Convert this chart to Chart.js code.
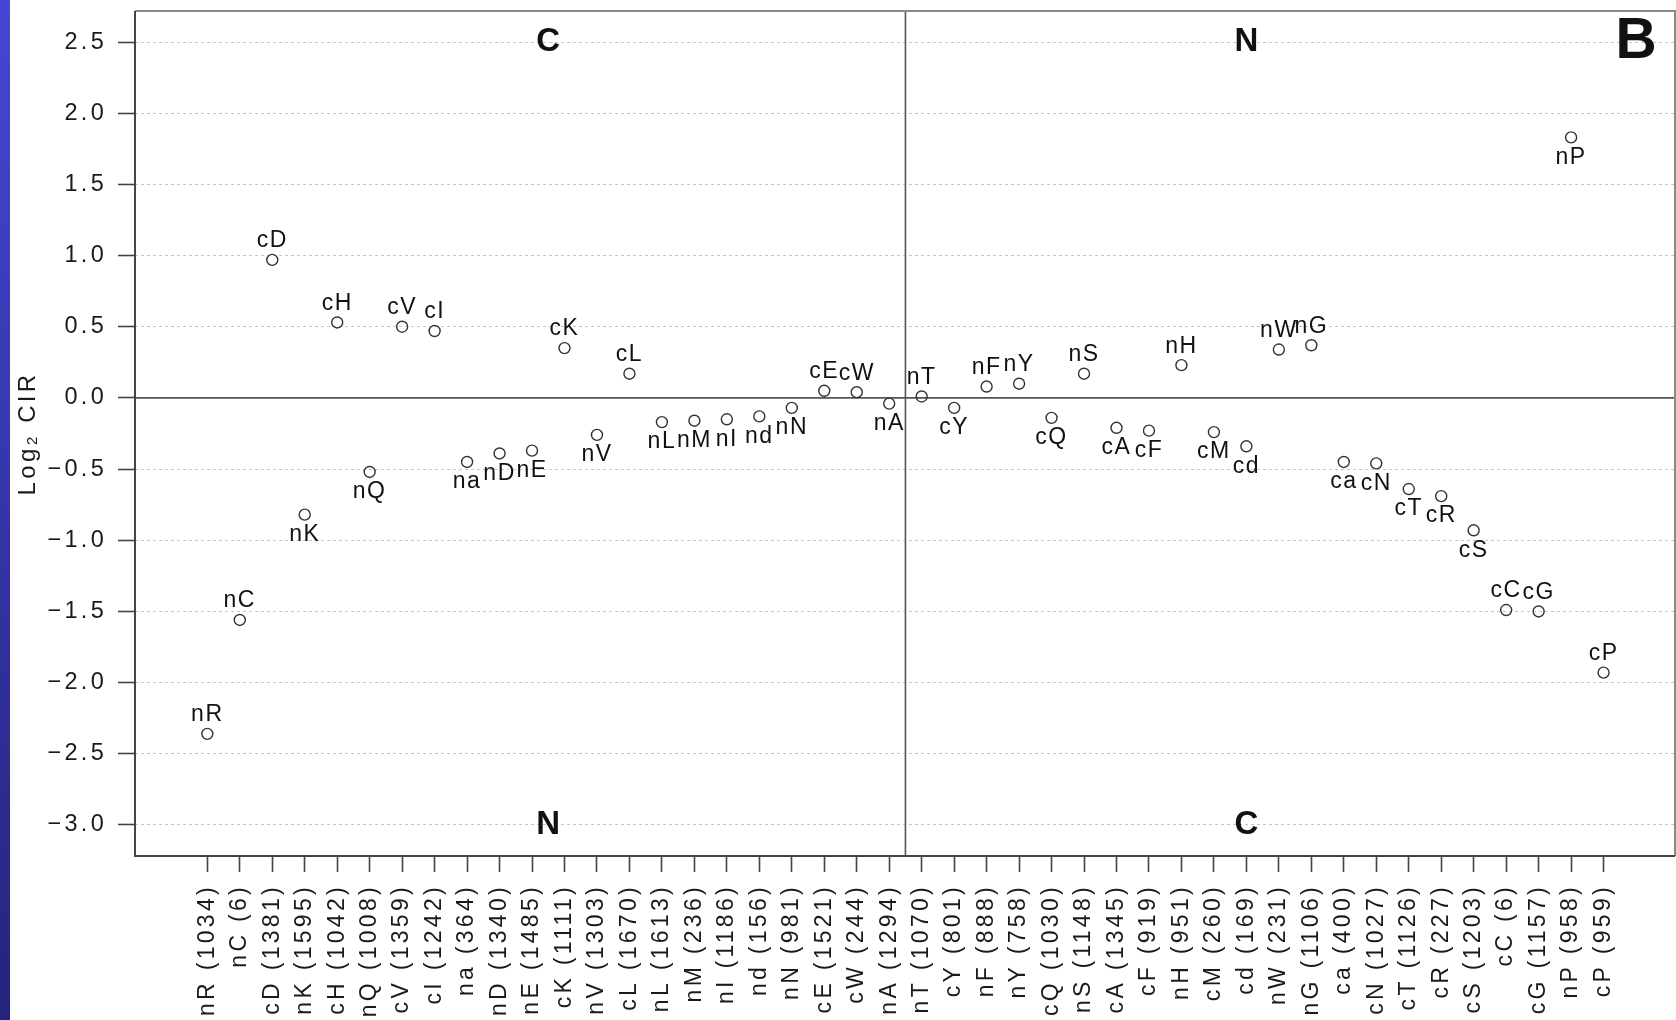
<!DOCTYPE html>
<html>
<head>
<meta charset="utf-8">
<script src="https://cdn.jsdelivr.net/npm/chart.js@4.4.1/dist/chart.umd.min.js"></script>
<style>
  html, body { margin: 0; padding: 0; background: #fff; }
  #wrap { position: relative; width: 1676px; height: 1020px; overflow: hidden; background: #fff; }
  #strip { position: absolute; left: 0; top: 0; width: 10px; height: 1020px;
           background: linear-gradient(#4646d4, #24247c); z-index: 2; }
  canvas { position: absolute; left: 0; top: 0; }
</style>
</head>
<body>
<div id="wrap">
  <div id="strip"></div>
  <canvas id="c" width="1676" height="1020"></canvas>
</div>
<script>
// ---- data ----
const CODES = ['nR','nC','cD','nK','cH','nQ','cV','cI','na','nD','nE','cK','nV','cL','nL','nM','nI','nd','nN','cE','cW','nA',
               'nT','cY','nF','nY','cQ','nS','cA','cF','nH','cM','cd','nW','nG','ca','cN','cT','cR','cS','cC','cG','nP','cP'];
const COUNTS = [1034,6,1381,1595,1042,1008,1359,1242,364,1340,1485,1111,1303,1670,1613,236,1186,156,981,1521,244,1294,
                1070,801,888,758,1030,1148,1345,919,951,260,169,231,1106,400,1027,1126,227,1203,6,1157,958,959];
const LOG2_CIR = [-2.36,-1.56,0.97,-0.82,0.53,-0.52,0.50,0.47,-0.45,-0.39,-0.37,0.35,-0.26,0.17,-0.17,-0.16,-0.15,-0.13,-0.07,0.05,0.04,-0.04,
                  0.01,-0.07,0.08,0.10,-0.14,0.17,-0.21,-0.23,0.23,-0.24,-0.34,0.34,0.37,-0.45,-0.46,-0.64,-0.69,-0.93,-1.49,-1.50,1.83,-1.93];
// label placement relative to its point: 'a' above, 'b' below
const LABEL_SIDE = ['a','a','a','b','a','b','a','a','b','b','b','a','b','a','b','b','b','b','b','a','a','b',
                    'a','b','a','a','b','a','b','b','a','b','b','a','a','b','b','b','b','b','a','a','b','a'];
const Y_TICKS = [-3.0,-2.5,-2.0,-1.5,-1.0,-0.5,0.0,0.5,1.0,1.5,2.0,2.5];
const X_LABELS = CODES.map((c, i) => c + ' (' + COUNTS[i] + ')');
const ZERO_Y = 0;
const DIVIDER_X = 21.5;
const REGION_LETTERS = ['C','N','N','C'];
const REGION_X = [10.5, 32.0, 10.5, 32.0];
const REGION_Y = [2.5, 2.5, -3.0, -3.0];
const PANEL_LETTER = 'B';
const PANEL_X = 44.0;
const PANEL_Y = 2.5;
const Y_TITLE = 'Log\u2082 CIR';

const FONT = '"Liberation Sans", Arial, Helvetica, sans-serif';

const decor = {
  id: 'decor',
  beforeUpdate(chart) { chart.ctx.letterSpacing = '3.3px'; },
  beforeDraw(chart) {
    const ctx = chart.ctx;
    ctx.save();
    ctx.fillStyle = '#fff';
    ctx.fillRect(0, 0, chart.width, chart.height);
    ctx.restore();
    ctx.letterSpacing = '3.3px';
  },
  beforeDatasetsDraw(chart) {
    const { ctx, chartArea: a, scales: { x, y } } = chart;
    ctx.save();
    ctx.letterSpacing = '0px';
    ctx.strokeStyle = '#555';
    ctx.lineWidth = 1.6;
    const y0 = y.getPixelForValue(ZERO_Y);
    ctx.beginPath(); ctx.moveTo(a.left, y0); ctx.lineTo(a.right, y0); ctx.stroke();
    const xd = x.getPixelForValue(DIVIDER_X);
    ctx.beginPath(); ctx.moveTo(xd, a.top); ctx.lineTo(xd, a.bottom); ctx.stroke();
    // box
    ctx.strokeStyle = '#8a8a8a'; ctx.lineWidth = 2;
    ctx.beginPath(); ctx.moveTo(a.left, a.top); ctx.lineTo(a.right, a.top); ctx.lineTo(a.right, a.bottom); ctx.stroke();
    ctx.strokeStyle = '#444'; ctx.lineWidth = 2;
    ctx.beginPath(); ctx.moveTo(a.left, a.top); ctx.lineTo(a.left, a.bottom); ctx.lineTo(a.right, a.bottom); ctx.stroke();
    ctx.restore();
  },
  afterDatasetsDraw(chart) {
    const { ctx, scales: { x, y } } = chart;
    const meta = chart.getDatasetMeta(0);
    ctx.save();
    ctx.letterSpacing = '1.5px';
    ctx.fillStyle = '#111';
    ctx.font = '23px ' + FONT;
    ctx.textAlign = 'center';
    ctx.textBaseline = 'middle';
    meta.data.forEach((pt, i) => {
      const dy = LABEL_SIDE[i] === 'a' ? -19 : 20;
      ctx.fillText(CODES[i], pt.x, pt.y + dy);
    });
    ctx.letterSpacing = '0px';
    ctx.font = 'bold 33px ' + FONT;
    REGION_LETTERS.forEach((t, i) => {
      ctx.fillText(t, x.getPixelForValue(REGION_X[i]), y.getPixelForValue(REGION_Y[i]));
    });
    ctx.font = 'bold 57px ' + FONT;
    ctx.fillText(PANEL_LETTER, x.getPixelForValue(PANEL_X), y.getPixelForValue(PANEL_Y));
    ctx.restore();
  }
};

new Chart(document.getElementById('c'), {
  type: 'scatter',
  data: {
    datasets: [{
      data: LOG2_CIR.map((v, i) => ({ x: i, y: v })),
      pointStyle: 'circle',
      pointRadius: 5.5,
      pointBorderWidth: 1.4,
      pointBorderColor: '#333',
      pointBackgroundColor: 'rgba(255,255,255,0)',
      pointHoverRadius: 5.5
    }]
  },
  options: {
    responsive: false,
    animation: false,
    events: [],
    layout: { autoPadding: false, padding: { left: 0, right: 1, top: 11, bottom: 0 } },
    plugins: { legend: { display: false }, tooltip: { enabled: false } },
    scales: {
      x: {
        type: 'linear',
        min: -2.227,
        max: 45.2,
        afterBuildTicks: (s) => { s.ticks = X_LABELS.map((_, i) => ({ value: i })); },
        afterFit: (s) => { s.height = 164; s.paddingLeft = 0; s.paddingRight = 0; },
        ticks: {
          autoSkip: false,
          minRotation: 90,
          maxRotation: 90,
          padding: 12,
          color: '#1a1a1a',
          font: { family: FONT, size: 23 },
          callback: (v) => X_LABELS[v]
        },
        grid: {
          drawOnChartArea: false,
          drawTicks: true,
          tickLength: 16,
          tickColor: '#444',
          tickWidth: 1.6
        },
        border: { display: false }
      },
      y: {
        type: 'linear',
        min: -3.218,
        max: 2.718,
        afterBuildTicks: (s) => { s.ticks = Y_TICKS.map(v => ({ value: v })); },
        afterFit: (s) => { s.width = 135; s.paddingTop = 0; s.paddingBottom = 0; },
        ticks: {
          padding: 11,
          color: '#1a1a1a',
          font: { family: FONT, size: 23.5 },
          callback: (v) => (v < 0 ? '\u2212' : '') + Math.abs(v).toFixed(1)
        },
        grid: {
          color: '#c6c6c6',
          lineWidth: 1,
          drawTicks: true,
          tickLength: 17,
          tickColor: '#444',
          tickWidth: 1.6,
          tickBorderDash: []
        },
        border: { display: false, dash: [3, 3] },
        title: {
          display: true,
          text: Y_TITLE,
          color: '#1a1a1a',
          font: { family: FONT, size: 24 },
          padding: { top: 14, bottom: 0 }
        }
      }
    }
  },
  plugins: [decor]
});
</script>
</body>
</html>
